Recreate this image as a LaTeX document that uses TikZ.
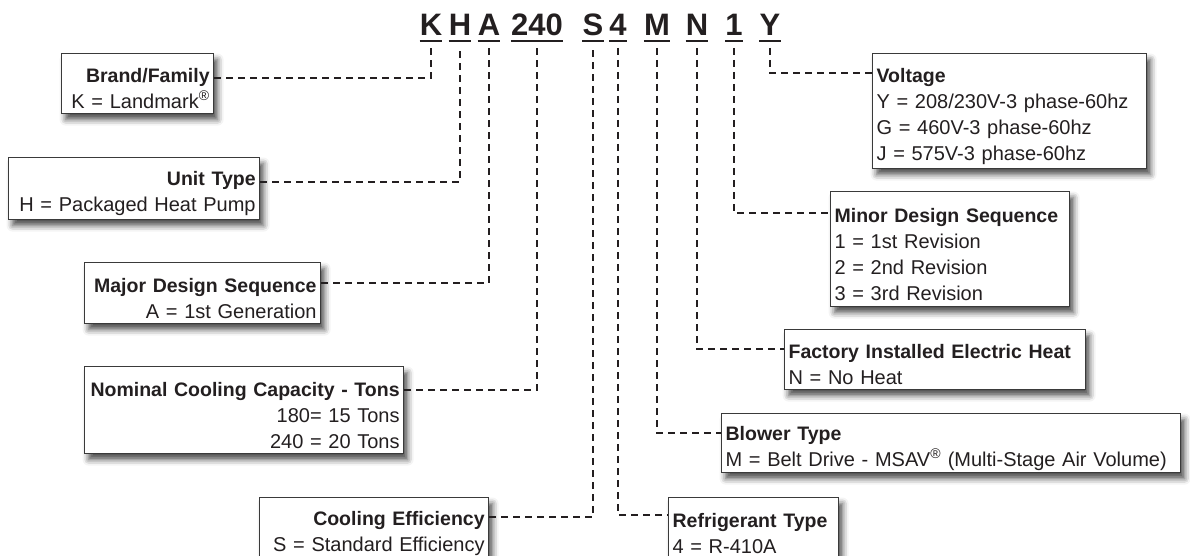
\documentclass[tikz,border=0pt]{standalone}
\usepackage{fontspec}
\setmainfont{Liberation Sans}
\usetikzlibrary{shadows.blur}
\definecolor{ink}{HTML}{231F20}
\definecolor{boxline}{HTML}{3A3A3A}
\tikzset{
  keybox/.style={draw=boxline, line width=1.2pt, fill=white, inner xsep=4pt, inner ysep=0pt,
    font=\fontsize{20}{26}\selectfont, text=ink, anchor=north west,
    blur shadow={shadow xshift=4pt, shadow yshift=-6pt, shadow blur radius=6pt, shadow opacity=70}},
  lbox/.style={keybox, align=right},
  rbox/.style={keybox, align=left},
  codechar/.style={font=\fontsize{31}{31}\selectfont\bfseries, text=ink, inner sep=0pt, anchor=base},
  conn/.style={draw=ink, line width=1.9pt, dash pattern=on 7pt off 5pt},
}
\newcommand{\ttl}[1]{\rule{0pt}{24pt}{\fontsize{19.5}{26}\selectfont\bfseries #1}}
\begin{document}
\begin{tikzpicture}[x=1pt, y=-1pt]
\path[use as bounding box, clip] (0,0) rectangle (1190,556);
% model number
\foreach \n/\t/\x in {K/K/431, H/H/460, A/A/489, T/240/537, S/S/593, R/4/618, M/M/657, N/N/697, D/1/734, Y/Y/770} {
  \node[codechar] (c\n) at (\x,36) {\t};
  \draw[ink, line width=2pt] ([yshift=-5pt]c\n.base west) -- ([yshift=-5pt]c\n.base east);
}
% left column
\node[lbox, text width=144pt, minimum height=60pt] (brand) at (61,53) {\ttl{Brand/Family}\\K = Landmark\textsuperscript{®}};
\node[lbox, text width=243pt, minimum height=62pt] (unit) at (8,157) {\ttl{Unit Type}\\H = Packaged Heat Pump};
\node[lbox, text width=228pt, minimum height=61pt] (major) at (84,262) {\ttl{Major Design Sequence}\\A = 1st Generation};
\node[lbox, text width=311pt, minimum height=87pt] (nominal) at (84,366) {\ttl{Nominal Cooling Capacity - Tons}\\180= 15 Tons\\240 = 20 Tons};
\node[lbox, text width=221pt, minimum height=61pt] (cooleff) at (259,497) {\ttl{Cooling Efficiency}\\S = Standard Efficiency};
% right column
\node[rbox, text width=266pt, minimum height=115pt] (volt) at (872,53) {\ttl{Voltage}\\Y = 208/230V-3 phase-60hz\\G = 460V-3 phase-60hz\\J = 575V-3 phase-60hz};
\node[rbox, text width=231pt, minimum height=115pt] (minor) at (830,191) {\ttl{Minor Design Sequence}\\1 = 1st Revision\\2 = 2nd Revision\\3 = 3rd Revision};
\node[rbox, text width=293pt, minimum height=60pt] (factory) at (784,329) {\ttl{Factory Installed Electric Heat}\\N = No Heat};
\node[rbox, text width=451pt, minimum height=59pt] (blower) at (721,413) {\ttl{Blower Type}\\M = Belt Drive - MSAV\textsuperscript{®} (Multi-Stage Air Volume)};
\node[rbox, text width=162pt, minimum height=61pt] (refrig) at (668,497) {\ttl{Refrigerant Type}\\4 = R-410A};
% leaders
\foreach \b/\c/\o in {brand/K/25, unit/H/25, major/A/21, nominal/T/24, cooleff/S/20}
  \draw[conn] ([yshift=-\o pt]\b.north east) -| ([yshift=-12pt]c\c.base);
\foreach \b/\c/\o in {refrig/R/18, blower/M/20, factory/N/20, minor/D/22, volt/Y/20}
  \draw[conn] ([yshift=-12pt]c\c.base) |- ([yshift=-\o pt]\b.north west);
\end{tikzpicture}
\end{document}
